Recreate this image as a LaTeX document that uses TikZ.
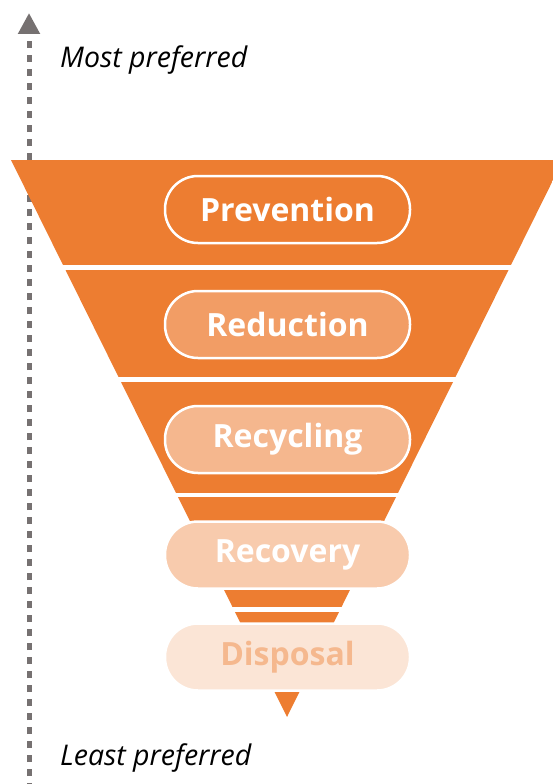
\documentclass[tikz,border=0pt]{standalone}
\usepackage{fontspec}
\setmainfont{Open Sans}
\usetikzlibrary{arrows.meta}
\definecolor{funnel}{HTML}{ED7D31}
\definecolor{axisgray}{HTML}{767171}
\tikzset{
  band/.style={fill=funnel},
  pill/.style={draw=white,line width=2.5pt,rounded corners=33pt,minimum width=245pt,minimum height=67pt,
    text=white,font=\fontsize{32}{40}\selectfont\bfseries},
  pref/.style={anchor=base west,inner sep=0pt,font=\fontsize{28.5}{34}\selectfont\itshape}
}
\begin{document}
\begin{tikzpicture}[x=1pt,y=-1pt]
  \useasboundingbox (0,0) rectangle (553,784);
  % axis
  \coordinate (axbot) at (29,790);
  \coordinate (axtop) at (29,13);
  \draw[axisgray,line width=5pt,dash pattern=on 7pt off 7pt,-{Triangle[width=21pt,length=21pt]}] (axbot) -- (axtop);
  \node[pref] (most) at (60,67) {Most preferred};
  \node[pref] (least) at (60,765) {Least preferred};
  % funnel
  \begin{scope}
    \clip (11,160) -- (563,160) -- (287,717) -- cycle;
    \fill[band] (0,160) rectangle (570,265);
    \fill[band] (0,270) rectangle (570,377);
    \fill[band] (0,382) rectangle (570,493);
    \fill[band] (0,497) rectangle (570,607);
    \fill[band] (0,612) rectangle (570,717);
  \end{scope}
  % levels
  \node[pill,fill=funnel] (prev) at (287.5,209.5) {Prevention};
  \node[pill,fill=funnel!75!white] (redu) at (287.5,324.5) {Reduction};
  \node[pill,fill=funnel!55!white] (recy) at (287.5,439.5) {Recycling};
  \node[pill,fill=funnel!40!white] (reco) at (287.5,555) {Recovery};
  \node[pill,fill=funnel!20!white,text=funnel!55!white] (disp) at (287.5,657) {Disposal};
\end{tikzpicture}
\end{document}
